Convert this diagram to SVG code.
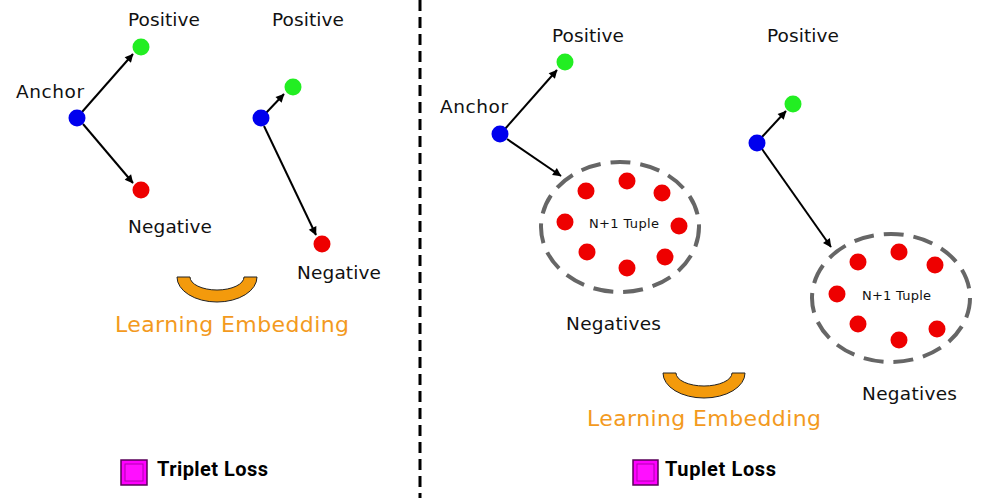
<svg xmlns="http://www.w3.org/2000/svg" width="991" height="498" viewBox="0 0 991 498">
<style>
.lbl{font-family:"DejaVu Sans","Noto Sans",sans-serif;font-size:18.5px;fill:#111}
.small{font-family:"DejaVu Sans","Noto Sans",sans-serif;font-size:13px;fill:#111}
.emb{font-family:"DejaVu Sans","Noto Sans",sans-serif;font-size:22px;fill:#f39a1e}
.loss{font-family:Roboto,"Liberation Sans",sans-serif;font-size:20px;font-weight:bold;fill:#000}
.a{fill:#0000ee}.p{fill:#22ee22}.n{fill:#ee0000}
.edge{stroke:#000;stroke-width:2;fill:none;marker-end:url(#ah)}
.grp{fill:none;stroke:#666;stroke-width:4;stroke-dasharray:20 10}
.bowl{fill:#f39a0c;stroke:#222;stroke-width:1}
</style>
<defs>
<marker id="ah" viewBox="0 0 10 10" refX="9" refY="5" markerWidth="6" markerHeight="6" markerUnits="userSpaceOnUse" orient="auto" style="overflow:visible">
<path d="M0,0 L10,5 L0,10 Z" fill="#000" transform="scale(1.4) translate(-3,-1.4)"/>
</marker>
</defs>
<rect width="991" height="498" fill="#fff"/>
<line x1="420" y1="0" x2="420" y2="498" stroke="#000" stroke-width="3" stroke-dasharray="11 6"/>
<g id="connectors">
<line class="edge" x1="82" y1="112" x2="133" y2="54"/>
<line class="edge" x1="83" y1="124" x2="133" y2="183"/>
<line class="edge" x1="266" y1="113" x2="284" y2="94"/>
<line class="edge" x1="264" y1="126" x2="316" y2="235"/>
<line class="edge" x1="505" y1="129" x2="557" y2="70"/>
<line class="edge" x1="507" y1="139" x2="561" y2="176"/>
<line class="edge" x1="761" y1="138" x2="786" y2="111"/>
<line class="edge" x1="762" y1="149" x2="831" y2="247"/>
</g>
<g id="triplet-1">
<circle class="a" cx="77" cy="118" r="8.5"/>
<text class="lbl" x="16" y="98" textLength="68">Anchor</text>
<circle class="p" cx="141" cy="47" r="8.5"/>
<text class="lbl" x="128" y="26" textLength="72">Positive</text>
<circle class="n" cx="141" cy="190" r="8.5"/>
<text class="lbl" x="128" y="233" textLength="84">Negative</text>
</g>
<g id="triplet-2">
<circle class="a" cx="261" cy="118" r="8.5"/>
<circle class="p" cx="293" cy="87" r="8.5"/>
<text class="lbl" x="272" y="26" textLength="72">Positive</text>
<circle class="n" cx="322" cy="244" r="8.5"/>
<text class="lbl" x="297" y="279" textLength="84">Negative</text>
</g>
<g id="embedding-left">
<path class="bowl" d="M177,277 L190,277 A27,13 0 0 0 244,277 L257,277 A40,25 0 0 1 177,277 Z"/>
<text class="emb" x="115" y="332" textLength="234">Learning Embedding</text>
</g>
<g id="legend-triplet">
<rect x="121" y="460" width="26" height="25" fill="#ff00ff" stroke="#5a005a" stroke-width="1.5"/>
<rect x="125" y="464" width="18" height="17" fill="#ff10ff" stroke="#b000b0" stroke-width="1"/>
<text class="loss" x="157" y="476" textLength="111">Triplet Loss</text>
</g>
<g id="tuple-1">
<circle class="a" cx="500" cy="134" r="8.5"/>
<text class="lbl" x="440" y="113" textLength="68">Anchor</text>
<circle class="p" cx="565" cy="62" r="8.5"/>
<text class="lbl" x="552" y="42" textLength="72">Positive</text>
<ellipse class="grp" cx="620" cy="227" rx="79" ry="65"/>
<circle class="n" cx="586" cy="191" r="8.5"/>
<circle class="n" cx="627" cy="181" r="8.5"/>
<circle class="n" cx="662" cy="193" r="8.5"/>
<circle class="n" cx="565" cy="222" r="8.5"/>
<circle class="n" cx="679" cy="226" r="8.5"/>
<circle class="n" cx="587" cy="252" r="8.5"/>
<circle class="n" cx="627" cy="268" r="8.5"/>
<circle class="n" cx="665" cy="257" r="8.5"/>
<text class="small" x="589" y="228" textLength="70">N+1 Tuple</text>
<text class="lbl" x="566" y="330" textLength="95">Negatives</text>
</g>
<g id="tuple-2">
<circle class="a" cx="757" cy="143" r="8.5"/>
<circle class="p" cx="793" cy="104" r="8.5"/>
<text class="lbl" x="767" y="42" textLength="72">Positive</text>
<ellipse class="grp" cx="891" cy="298" rx="79" ry="64"/>
<circle class="n" cx="858" cy="262" r="8.5"/>
<circle class="n" cx="899" cy="252" r="8.5"/>
<circle class="n" cx="935" cy="265" r="8.5"/>
<circle class="n" cx="837" cy="294" r="8.5"/>
<circle class="n" cx="858" cy="324" r="8.5"/>
<circle class="n" cx="899" cy="340" r="8.5"/>
<circle class="n" cx="937" cy="329" r="8.5"/>
<text class="small" x="862" y="300" textLength="69">N+1 Tuple</text>
<text class="lbl" x="862" y="400" textLength="95">Negatives</text>
</g>
<g id="embedding-right">
<path class="bowl" d="M663,373 L676,373 A28,13 0 0 0 732,373 L745,373 A41,25 0 0 1 663,373 Z"/>
<text class="emb" x="587" y="426" textLength="234">Learning Embedding</text>
</g>
<g id="legend-tuplet">
<rect x="633" y="460" width="25" height="25" fill="#ff00ff" stroke="#5a005a" stroke-width="1.5"/>
<rect x="637" y="464" width="17" height="17" fill="#ff10ff" stroke="#b000b0" stroke-width="1"/>
<text class="loss" x="665" y="476" textLength="111">Tuplet Loss</text>
</g>
</svg>
